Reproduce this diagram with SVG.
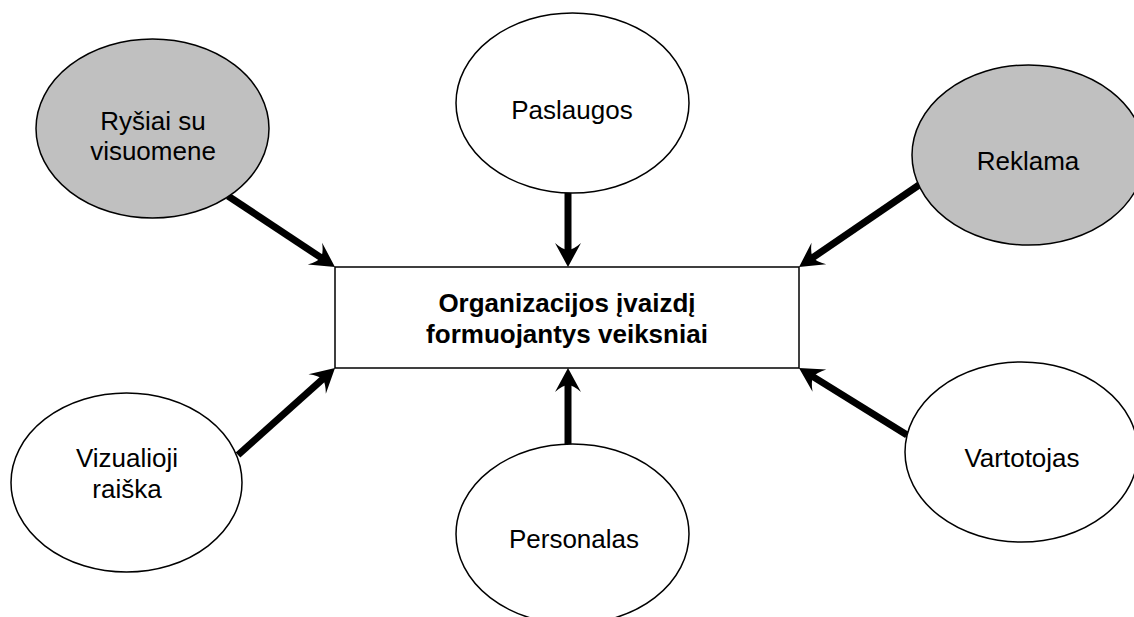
<svg xmlns="http://www.w3.org/2000/svg" width="1134" height="617" viewBox="0 0 1134 617">
<style>
.node ellipse{stroke:#000;stroke-width:1.5}
.white{fill:#fff}
.grey{fill:#c0c0c0}
.lbl{font-family:"Liberation Sans",Arial,sans-serif;font-size:26px;fill:#000;text-anchor:middle}
.bold{font-weight:bold}
.conn line{stroke:#000;stroke-width:7;marker-end:url(#ah)}
</style>
<defs>
<marker id="ah" markerUnits="userSpaceOnUse" markerWidth="30" markerHeight="30" refX="10" refY="13" orient="auto" overflow="visible">
<path d="M24,13 L0,0 Q7,8 7,13 Q7,18 0,26 Z" fill="#000"/>
</marker>
</defs>
<rect width="1134" height="617" fill="#fff"/>
<g id="connectors" class="conn">
<line x1="228" y1="196" x2="323.3" y2="259.2"/>
<line x1="568" y1="193" x2="568" y2="253"/>
<line x1="919" y1="185" x2="810.6" y2="259.1"/>
<line x1="238" y1="455" x2="324.6" y2="377.3"/>
<line x1="568" y1="444" x2="568" y2="382"/>
<line x1="907" y1="435" x2="810.9" y2="375.4"/>
</g>
<g id="center" class="node">
<rect x="335" y="267" width="464" height="101" fill="#fff" stroke="#000" stroke-width="1.5"/>
<text class="lbl bold" x="567" y="312">Organizacijos įvaizdį</text>
<text class="lbl bold" x="567" y="343">formuojantys veiksniai</text>
</g>
<g id="rysiai" class="node">
<ellipse class="grey" cx="152.5" cy="128.5" rx="116.5" ry="89.5"/>
<text class="lbl" x="153" y="130">Ryšiai su</text>
<text class="lbl" x="153" y="160">visuomene</text>
</g>
<g id="paslaugos" class="node">
<ellipse class="white" cx="572.5" cy="103" rx="116.5" ry="90"/>
<text class="lbl" x="572" y="119">Paslaugos</text>
</g>
<g id="reklama" class="node">
<ellipse class="grey" cx="1028.5" cy="155" rx="116.5" ry="90"/>
<text class="lbl" x="1028" y="170">Reklama</text>
</g>
<g id="vizualioji" class="node">
<ellipse class="white" cx="126.5" cy="482.5" rx="115.5" ry="89.5"/>
<text class="lbl" x="127" y="467">Vizualioji</text>
<text class="lbl" x="127" y="498">raiška</text>
</g>
<g id="personalas" class="node">
<ellipse class="white" cx="572.5" cy="534" rx="116.5" ry="90"/>
<text class="lbl" x="574" y="548">Personalas</text>
</g>
<g id="vartotojas" class="node">
<ellipse class="white" cx="1021.5" cy="452" rx="116.5" ry="90"/>
<text class="lbl" x="1022" y="467">Vartotojas</text>
</g>
</svg>
